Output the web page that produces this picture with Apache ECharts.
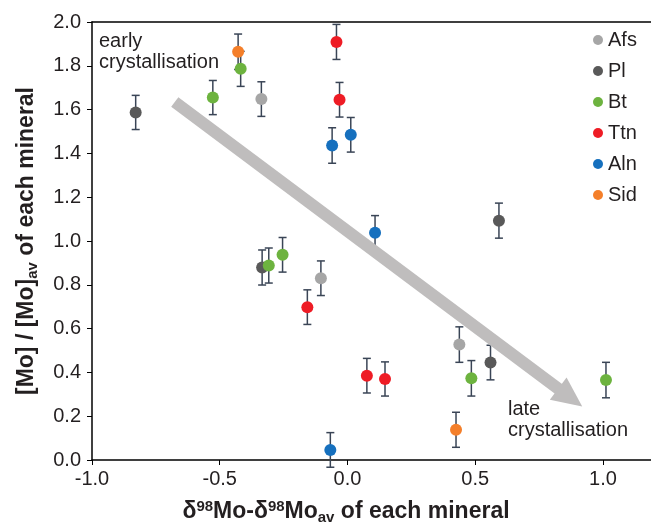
<!DOCTYPE html>
<html><head><meta charset="utf-8">
<script src="https://cdn.jsdelivr.net/npm/echarts@6/dist/echarts.min.js"></script>
<style>html,body{margin:0;padding:0;background:#fff}#c{width:651px;height:523px}</style>
</head><body><div id="c"></div>
<script>
// [x, y, error]
const afs = [[-0.337,1.648,0.079],[-0.104,0.830,0.079],[0.438,0.527,0.081]];
const pl  = [[-0.829,1.587,0.078],[-0.334,0.879,0.080],[0.593,1.093,0.080],[0.560,0.445,0.079]];
const bt  = [[-0.527,1.655,0.078],[-0.418,1.786,0.080],[-0.308,0.888,0.080],[-0.254,0.937,0.079],[0.485,0.373,0.081],[1.012,0.365,0.081]];
const ttn = [[-0.043,1.909,0.080],[-0.031,1.645,0.079],[-0.157,0.698,0.079],[0.076,0.385,0.079],[0.147,0.370,0.078]];
const aln = [[-0.060,1.436,0.081],[0.013,1.485,0.079],[0.108,1.038,0.078],[-0.067,0.046,0.079]];
const sid = [[-0.428,1.864,0.081],[0.425,0.138,0.080]];
const seriesNames = ['Afs','Pl','Bt','Ttn','Aln','Sid'];
const seriesData = [afs,pl,bt,ttn,aln,sid];
const colors = ['#a6a6a6','#595959','#6db33f','#ee1c25','#1670be','#f47f2a'];
const arrowStart = [-0.676,1.635];
const arrowEnd = [0.872,0.285];
const xTicks = [-1.0,-0.5,0.0,0.5,1.0];

const FONT = 'Liberation Sans, Arial, sans-serif';
const TXT = '#231f20';
const chart = echarts.init(document.getElementById('c'));

const allPts = [];
seriesData.forEach(d => d.forEach(p => allPts.push(p)));

const series = [];
series.push({
  type:'scatter', name:'arrow', data:[], z:1, silent:true,
  markLine:{
    silent:true, symbol:['none','triangle'], symbolSize:[28,30],
    label:{show:false},
    lineStyle:{color:'#bfbdbd', width:12, type:'solid', opacity:1},
    itemStyle:{color:'#bfbdbd'},
    emphasis:{disabled:true},
    data:[[{coord:arrowStart},{coord:arrowEnd}]]
  }
});
series.push({
  type:'custom', name:'err', z:2, silent:true,
  data: allPts,
  renderItem: function(params, api){
    const x = api.value(0), y = api.value(1), e = api.value(2);
    const top = api.coord([x, y+e]);
    const bot = api.coord([x, y-e]);
    const w = 4;
    const st = {stroke:'#3a4556', lineWidth:1.5};
    return {type:'group', children:[
      {type:'line', shape:{x1:top[0],y1:top[1],x2:bot[0],y2:bot[1]}, style:st},
      {type:'line', shape:{x1:top[0]-w,y1:top[1],x2:top[0]+w,y2:top[1]}, style:st},
      {type:'line', shape:{x1:bot[0]-w,y1:bot[1],x2:bot[0]+w,y2:bot[1]}, style:st}
    ]};
  }
});
seriesNames.forEach((n,i)=>{
  series.push({type:'scatter', name:n, z:3, symbol:'circle', symbolSize:12,
    itemStyle:{color:colors[i], opacity:1},
    data: seriesData[i].map(p=>[p[0],p[1]])});
});

chart.setOption({
  animation:false,
  textStyle:{fontFamily:FONT},
  grid:{left:92, top:22, right:-3, bottom:63, containLabel:false, outerBoundsMode:'none'},
  legend:{
    data: seriesNames, orient:'vertical', left:593, top:30, padding:0,
    icon:'circle', itemWidth:10, itemHeight:10, itemGap:11,
    textStyle:{fontSize:20, color:TXT, fontFamily:FONT, lineHeight:20}
  },
  xAxis:[{
    type:'value', min:-1.0, max:1.2, interval:0.5,
    axisLine:{onZero:false, lineStyle:{color:'#000', width:1.5}},
    axisTick:{show:true, length:5, lineStyle:{color:'#000'}},
    splitLine:{show:false},
    axisLabel:{fontSize:20, color:TXT, margin:9, fontFamily:FONT,
      formatter:v=> xTicks.some(t=>Math.abs(t-v)<1e-9) ? v.toFixed(1) : ''},
    name:'{b|δ}{sup|98}{b|Mo-δ}{sup|98}{b|Mo}{sub|av}{b| of each mineral}',
    nameLocation:'middle', nameGap:39,
    nameTextStyle:{padding:[0,54,0,0], rich:{
      b:{fontSize:23, fontWeight:'bold', color:TXT, fontFamily:FONT, lineHeight:26},
      sup:{fontSize:15, fontWeight:'bold', color:TXT, fontFamily:FONT, verticalAlign:'top', lineHeight:26, padding:[0,0,8,0]},
      sub:{fontSize:15, fontWeight:'bold', color:TXT, fontFamily:FONT, verticalAlign:'bottom', lineHeight:26, padding:[6,0,0,0]}
    }}
  },{
    type:'value', position:'top', min:-1.0, max:1.2,
    axisLine:{show:true, onZero:false, lineStyle:{color:'#000', width:1.5}},
    axisTick:{show:false}, axisLabel:{show:false}, splitLine:{show:false}
  }],
  yAxis:{
    type:'value', min:0, max:2.0, interval:0.2,
    axisLine:{show:true, onZero:false, lineStyle:{color:'#000', width:1.5}},
    axisTick:{show:true, length:5, lineStyle:{color:'#000'}},
    splitLine:{show:false},
    axisLabel:{fontSize:20, color:TXT, margin:11, fontFamily:FONT, formatter:v=>v.toFixed(1)},
    name:'{b|[Mo] / [Mo]}{sub|av}{b| of each mineral}',
    nameLocation:'middle', nameGap:52, nameRotate:90,
    nameTextStyle:{rich:{
      b:{fontSize:23, fontWeight:'bold', color:TXT, fontFamily:FONT, lineHeight:26},
      sub:{fontSize:15, fontWeight:'bold', color:TXT, fontFamily:FONT, verticalAlign:'bottom', lineHeight:26, padding:[6,0,0,0]}
    }}
  },
  graphic:[
    {type:'text', left:99, top:31, z:10, style:{text:'early\ncrystallisation', font:'20px '+FONT, fill:TXT, lineHeight:21}},
    {type:'text', left:508, top:399, z:10, style:{text:'late\ncrystallisation', font:'20px '+FONT, fill:TXT, lineHeight:21}}
  ],
  series: series
});
</script></body></html>
